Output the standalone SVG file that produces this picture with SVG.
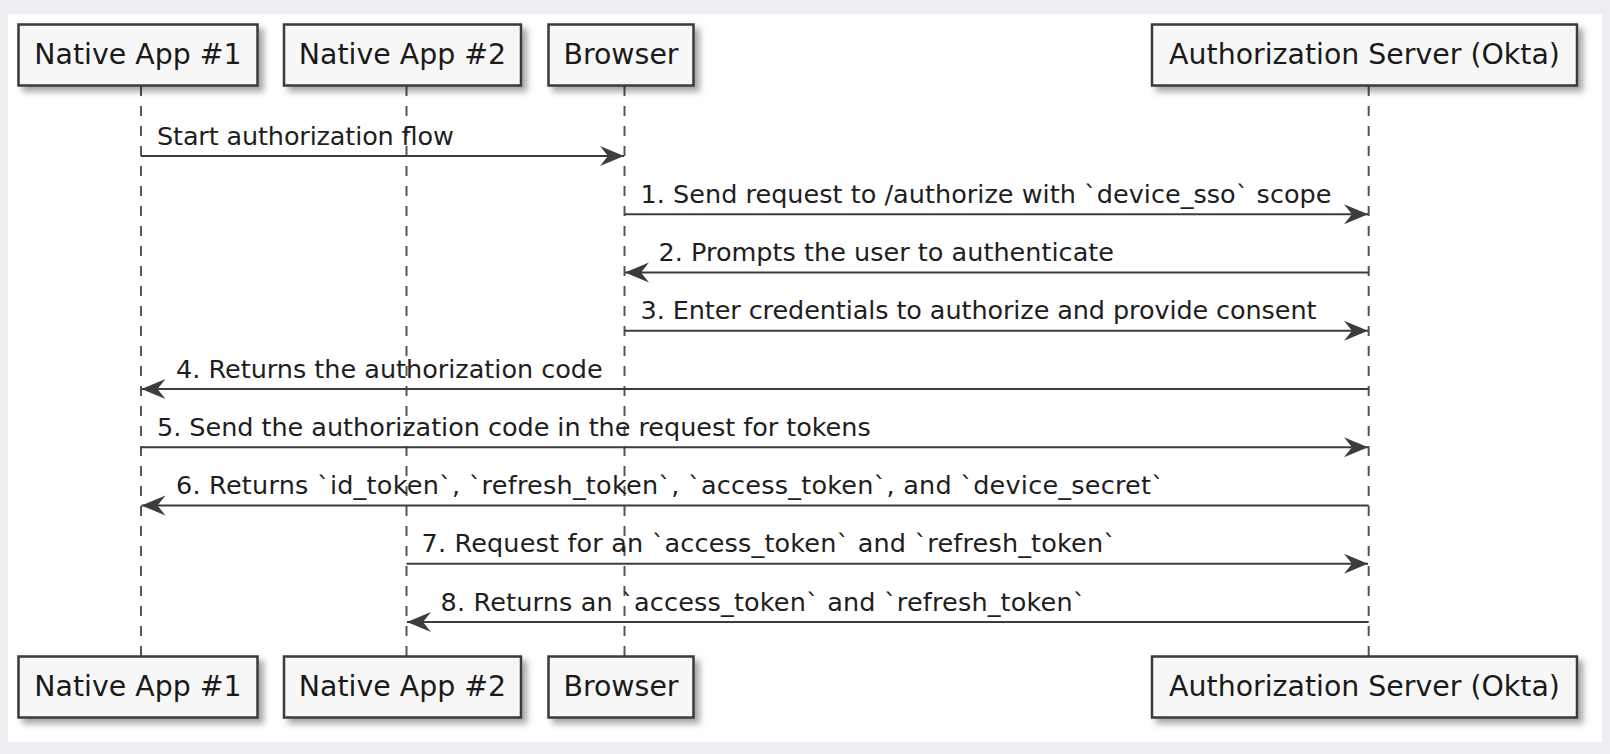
<svg xmlns="http://www.w3.org/2000/svg" width="1610" height="754" viewBox="0 0 1610 754">
<style>
.bg{fill:#eceef2}
.panel{fill:#ffffff}
.box{fill:#f7f7f7;stroke:#3a3a3a;stroke-width:2.5}
.ptxt{font-family:"DejaVu Sans",sans-serif;font-size:28.4px;fill:#1a1a1a;text-anchor:middle}
.life{stroke:#555555;stroke-width:2;stroke-dasharray:10,10;fill:none}
.msg{stroke:#3c3c3c;stroke-width:2;fill:none;marker-end:url(#ah)}
.mtxt{font-family:"DejaVu Sans",sans-serif;font-size:25.5px;fill:#1e1e1e}
</style>
<defs>
<filter id="sh" x="-10%" y="-20%" width="130%" height="160%">
<feDropShadow dx="5" dy="5" stdDeviation="3" flood-color="#000000" flood-opacity="0.35"/>
</filter>
<marker id="ah" markerUnits="userSpaceOnUse" viewBox="0 -11 26 22" markerWidth="26" markerHeight="22" refX="24" refY="0" orient="auto">
<path d="M0,-10 L24,0 L0,10 L8,0 Z" fill="#3c3c3c"/>
</marker>
</defs>
<rect class="bg" x="0" y="0" width="1610" height="754"/>
<rect class="panel" x="8" y="14" width="1594" height="728"/>
<g id="lifelines">
<line class="life" x1="141" y1="86" x2="141" y2="656"/>
<line class="life" x1="406.5" y1="86" x2="406.5" y2="656"/>
<line class="life" x1="624.5" y1="86" x2="624.5" y2="656"/>
<line class="life" x1="1368.7" y1="86" x2="1368.7" y2="656"/>
</g>
<g id="native-app-1">
<rect class="box" x="18.5" y="24.5" width="239" height="61" filter="url(#sh)"/>
<text class="ptxt" x="138" y="63.5">Native App #1</text>
<rect class="box" x="18.5" y="656.5" width="239" height="61" filter="url(#sh)"/>
<text class="ptxt" x="138" y="695.5">Native App #1</text>
</g>
<g id="native-app-2">
<rect class="box" x="284" y="24.5" width="237" height="61" filter="url(#sh)"/>
<text class="ptxt" x="402.5" y="63.5">Native App #2</text>
<rect class="box" x="284" y="656.5" width="237" height="61" filter="url(#sh)"/>
<text class="ptxt" x="402.5" y="695.5">Native App #2</text>
</g>
<g id="browser">
<rect class="box" x="548.5" y="24.5" width="145" height="61" filter="url(#sh)"/>
<text class="ptxt" x="621" y="63.5">Browser</text>
<rect class="box" x="548.5" y="656.5" width="145" height="61" filter="url(#sh)"/>
<text class="ptxt" x="621" y="695.5">Browser</text>
</g>
<g id="auth-server">
<rect class="box" x="1152" y="24.5" width="425" height="61" filter="url(#sh)"/>
<text class="ptxt" x="1364.5" y="63.5">Authorization Server (Okta)</text>
<rect class="box" x="1152" y="656.5" width="425" height="61" filter="url(#sh)"/>
<text class="ptxt" x="1364.5" y="695.5">Authorization Server (Okta)</text>
</g>
<g id="connectors">
<line class="msg" x1="141" y1="156" x2="624" y2="156"/>
<text class="mtxt" x="157" y="144.5" textLength="296.8" lengthAdjust="spacing">Start authorization flow</text>
<line class="msg" x1="624.5" y1="214.25" x2="1368" y2="214.25"/>
<text class="mtxt" x="640.5" y="202.75" textLength="691" lengthAdjust="spacing">1. Send request to /authorize with `device_sso` scope</text>
<line class="msg" x1="1368.7" y1="272.5" x2="625" y2="272.5"/>
<text class="mtxt" x="658.5" y="261" textLength="455.5" lengthAdjust="spacing">2. Prompts the user to authenticate</text>
<line class="msg" x1="624.5" y1="330.75" x2="1368" y2="330.75"/>
<text class="mtxt" x="640.5" y="319.25" textLength="676" lengthAdjust="spacing">3. Enter credentials to authorize and provide consent</text>
<line class="msg" x1="1368.7" y1="389" x2="141.5" y2="389"/>
<text class="mtxt" x="176" y="377.5" textLength="426.7" lengthAdjust="spacing">4. Returns the authorization code</text>
<line class="msg" x1="141" y1="447.25" x2="1368" y2="447.25"/>
<text class="mtxt" x="157" y="435.75" textLength="713.7" lengthAdjust="spacing">5. Send the authorization code in the request for tokens</text>
<line class="msg" x1="1368.7" y1="505.5" x2="141.5" y2="505.5"/>
<text class="mtxt" x="176" y="494" textLength="988" lengthAdjust="spacing">6. Returns `id_token`, `refresh_token`, `access_token`, and `device_secret`</text>
<line class="msg" x1="406.5" y1="563.75" x2="1368" y2="563.75"/>
<text class="mtxt" x="421.5" y="552.25" textLength="694.5" lengthAdjust="spacing">7. Request for an `access_token` and `refresh_token`</text>
<line class="msg" x1="1368.7" y1="622" x2="407" y2="622"/>
<text class="mtxt" x="440.5" y="610.5" textLength="645" lengthAdjust="spacing">8. Returns an `access_token` and `refresh_token`</text>
</g>
</svg>
